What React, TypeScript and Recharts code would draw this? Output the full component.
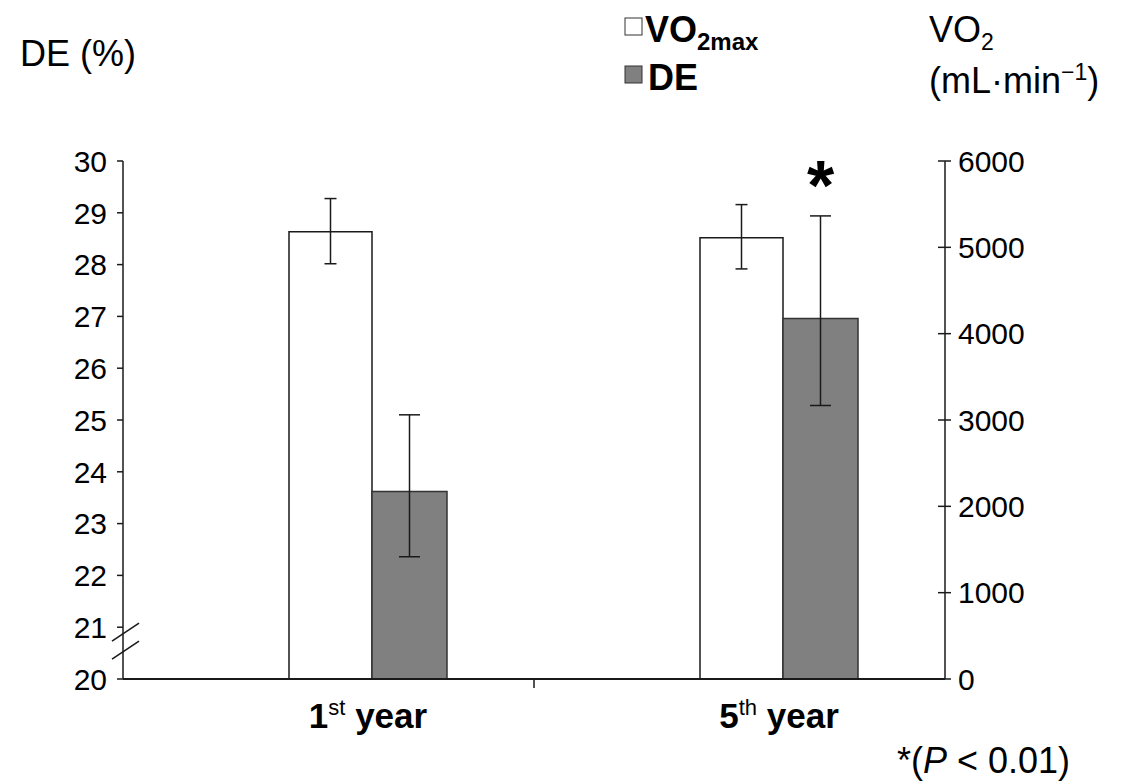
import React from 'react';
import { ComposedChart, Bar, XAxis, YAxis, ErrorBar, Legend, ReferenceLine, LabelList } from 'recharts';

// categories
const years = ['1st year', '5th year'];
const yearNumbers = ['1', '5'];
const yearSuffixes = ['st', 'th'];

// VO2max (mL/min), right axis, error as [minus, plus]
const vo2max = [5180, 5110];
const vo2maxErr = [[370, 385], [360, 385]];

// DE (%), left axis
const de = [23.62, 26.96];
const deErr = [[1.26, 1.48], [1.68, 1.98]];
const deSignificant = [false, true];

const deTicks = [20, 21, 22, 23, 24, 25, 26, 27, 28, 29, 30];
const vo2Ticks = [0, 1000, 2000, 3000, 4000, 5000, 6000];
const DE_DOMAIN = [20, 30];
const legendOrder = ['vo2max', 'de'];

const FONT = "'Liberation Sans', Arial, Helvetica, sans-serif";
const W = 1138;
const H = 782;
const SPACER = 79; // empty slot left of each pair, the pairs sit right of the category centre
const GRAY = '#808080';
const INK = '#1a1a1a';
const TICK_FONT = 30;
const TITLE_FONT = 36;

const rows = years.map((year, i) => ({
  year,
  vo2max: vo2max[i],
  vo2maxErr: vo2maxErr[i],
  de: de[i],
  deErr: deErr[i],
}));

const LeftTick = ({ x, y, payload }: any) => (
  <g>
    <line x1={x - 6} x2={x} y1={y} y2={y} stroke={INK} strokeWidth={1.5} />
    <text x={x - 16} y={y} dy="0.36em" textAnchor="end" fontSize={TICK_FONT} fontFamily={FONT} fill="#000">
      {payload.value}
    </text>
  </g>
);

const RightTick = ({ x, y, payload }: any) => (
  <g>
    <line x1={x - 7} x2={x + 6} y1={y} y2={y} stroke={INK} strokeWidth={1.5} />
    <text x={x + 13} y={y} dy="0.36em" textAnchor="start" fontSize={TICK_FONT} fontFamily={FONT} fill="#000">
      {payload.value}
    </text>
  </g>
);

const YearTick = ({ x, y, payload, index }: any) => {
  const i = payload?.index ?? index;
  const edge = x + (payload?.offset ?? 0);
  return (
    <g>
      {i < years.length - 1 && (
        <line x1={edge} x2={edge} y1={y} y2={y + 9} stroke={INK} strokeWidth={1.5} />
      )}
      <text x={x + SPACER / 2} y={y + 49} textAnchor="middle" fontFamily={FONT} fontSize={35} fontWeight="bold" fill="#000">
        {yearNumbers[i]}
        <tspan fontSize={22} fontWeight="normal" dy={-13}>{yearSuffixes[i]}</tspan>
        <tspan dy={13}> year</tspan>
      </text>
    </g>
  );
};

// double slash break on the DE axis
const AxisBreak = (props: any) => {
  const { x1, y1 } = props;
  const x = x1;
  return (
    <g>
      <rect x={x - 3} y={y1 - 9} width={6} height={18} fill="#fff" />
      <line x1={x - 11} y1={y1} x2={x + 16} y2={y1 - 18} stroke={INK} strokeWidth={1.5} />
      <line x1={x - 11} y1={y1 + 18} x2={x + 16} y2={y1} stroke={INK} strokeWidth={1.5} />
    </g>
  );
};

const StarLabel = (props: any) => {
  const { x, y, width, height, value, index } = props;
  if (!deSignificant[index]) return null;
  const pxPerUnit = height / (value - DE_DOMAIN[0]);
  const errTop = y - deErr[index][1] * pxPerUnit;
  return (
    <text x={x + width / 2} y={errTop - 6} textAnchor="middle" fontFamily={FONT} fontWeight="bold" fontSize={70} fill="#000">
      *
    </text>
  );
};

const LegendContent = ({ payload }: any) => {
  const items = legendOrder
    .map((key) => (payload || []).find((e: any) => e.dataKey === key))
    .filter(Boolean);
  return (
    <svg width={200} height={100} style={{ overflow: 'visible' }}>
      {items.map((entry: any, k: number) => {
        const top = 18 + k * 48;
        const isVo2 = entry.dataKey === 'vo2max';
        return (
          <g key={entry.dataKey}>
            <rect x={5} y={top} width={17} height={17} fill={isVo2 ? '#fff' : GRAY} stroke="#333" strokeWidth={1} />
            <text x={isVo2 ? 25 : 28} y={top + 24} fontFamily={FONT} fontWeight="bold" fontSize={TITLE_FONT} fill="#000">
              {isVo2 ? (
                <>
                  VO<tspan fontSize={24} dy={8}>2max</tspan>
                </>
              ) : (
                'DE'
              )}
            </text>
          </g>
        );
      })}
    </svg>
  );
};

export default function App() {
  return (
    <div style={{ position: 'absolute', left: 0, top: 0, width: W, height: H, background: '#fff', overflow: 'hidden' }}>
      <ComposedChart
        width={W}
        height={H}
        data={rows}
        margin={{ top: 161, right: 43, bottom: 43, left: 0 }}
        barGap={0}
        barCategoryGap={0}
      >
        <XAxis
          dataKey="year"
          height={60}
          interval={0}
          tickLine={false}
          tickSize={0}
          tickMargin={0}
          tick={<YearTick />}
          axisLine={{ stroke: INK, strokeWidth: 2 }}
        />
        <YAxis
          yAxisId="de"
          orientation="left"
          width={123}
          domain={DE_DOMAIN}
          ticks={deTicks}
          interval={0}
          tickLine={false}
          tickSize={0}
          tickMargin={0}
          tick={<LeftTick />}
          axisLine={{ stroke: INK, strokeWidth: 1.5 }}
        />
        <YAxis
          yAxisId="vo2"
          orientation="right"
          width={150}
          domain={[0, 6000]}
          ticks={vo2Ticks}
          interval={0}
          tickLine={false}
          tickSize={0}
          tickMargin={0}
          tick={<RightTick />}
          axisLine={{ stroke: INK, strokeWidth: 1.5 }}
        />
        <Bar dataKey="spacer" yAxisId="vo2" barSize={SPACER} fill="none" legendType="none" isAnimationActive={false} />
        <Bar
          dataKey="vo2max"
          name="VO2max"
          yAxisId="vo2"
          barSize={83}
          fill="#fff"
          stroke={INK}
          strokeWidth={1.5}
          isAnimationActive={false}
        >
          <ErrorBar dataKey="vo2maxErr" width={6} stroke={INK} strokeWidth={1.5} direction="y" />
        </Bar>
        <Bar
          dataKey="de"
          name="DE"
          yAxisId="de"
          barSize={75}
          fill={GRAY}
          stroke="#333"
          strokeWidth={1.5}
          isAnimationActive={false}
        >
          <ErrorBar dataKey="deErr" width={10.5} stroke={INK} strokeWidth={1.5} direction="y" />
          <LabelList dataKey="de" content={<StarLabel />} />
        </Bar>
        <ReferenceLine yAxisId="de" y={20.73} stroke="none" shape={<AxisBreak />} />
        <Legend
          layout="vertical"
          align="center"
          verticalAlign="middle"
          content={<LegendContent />}
          wrapperStyle={{ left: 620, top: 0, width: 200, height: 100 }}
        />
      </ComposedChart>
      <svg width={W} height={H} style={{ position: 'absolute', left: 0, top: 0, pointerEvents: 'none' }}>
        <text x={20} y={66} fontFamily={FONT} fontSize={TITLE_FONT} fill="#000">DE (%)</text>
        <text x={929} y={42} fontFamily={FONT} fontSize={TITLE_FONT} fill="#000">
          VO<tspan fontSize={23} dy={8}>2</tspan>
        </text>
        <text x={929} y={93} fontFamily={FONT} fontSize={TITLE_FONT} fill="#000">
          (mL·min<tspan fontSize={23} dy={-13}>−1</tspan><tspan dy={13}>)</tspan>
        </text>
        <text x={897} y={773} fontFamily={FONT} fontSize={TITLE_FONT} fill="#000">
          *(<tspan fontStyle="italic">P</tspan> &lt; 0.01)
        </text>
      </svg>
    </div>
  );
}
